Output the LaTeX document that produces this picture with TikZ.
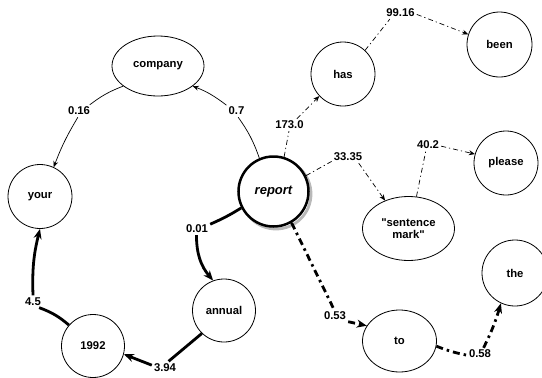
\documentclass[tikz,border=0pt]{standalone}
\usepackage{fontspec}
\setmainfont{Liberation Sans}
\newfontfamily\plainq{Liberation Sans}[Ligatures=TeXOff]
\usetikzlibrary{arrows.meta,shapes.geometric}
\tikzset{
  txt/.style={font=\bfseries\fontsize{11.3}{12.5}\selectfont},
  vtx/.style={txt, circle, draw, line width=0.8pt, minimum size=64pt, inner sep=0pt, fill=white},
  evtx/.style={txt, ellipse, draw, line width=0.8pt, inner sep=0pt, fill=white, align=center},
  lbl/.style={txt, inner sep=2pt},
  thinedge/.style={line width=0.7pt, -{Stealth[length=6pt,width=5pt]}},
  dashdotedge/.style={thinedge, dash pattern=on 5pt off 3pt on 1.2pt off 3pt},
  thickedge/.style={line width=2.8pt, -{Stealth[length=10pt,width=8pt]}},
  thickdashdot/.style={thickedge, dash pattern=on 7pt off 4pt on 2.5pt off 4pt}
}
\begin{document}
\begin{tikzpicture}[x=1pt,y=1pt]
\useasboundingbox (0,0) rectangle (542,-378);
% nodes
\node[evtx, minimum width=92pt, minimum height=60pt] (company) at (158,-66) {company};
\node[vtx] (your) at (40,-196.5) {your};
\node[circle, draw=gray!55, line width=2.8pt, minimum size=70pt] (reportshadow) at (276,-194) {};
\node[circle, draw, line width=2.5pt, minimum size=70pt, inner sep=0pt, fill=white,
      font=\bfseries\itshape\fontsize{13}{14}\selectfont] (report) at (273.5,-191.5) {report};
\node[vtx] (has) at (343,-74) {has};
\node[vtx, minimum size=65pt] (been) at (499.5,-44.5) {been};
\node[vtx] (please) at (506,-163) {please};
\node[evtx, minimum width=92pt, minimum height=64pt, font=\plainq\bfseries\fontsize{11.3}{12.5}\selectfont] (smark) at (408.5,-228.5) {"sentence\\mark"};
\node[vtx, minimum size=66pt] (the) at (515,-273) {the};
\node[evtx, minimum width=74pt, minimum height=62pt] (to) at (399.5,-341) {to};
\node[vtx, minimum size=63pt] (annual) at (224,-310.5) {annual};
\node[vtx, minimum size=63pt] (n1992) at (93,-346) {1992};
% labels
\node[lbl] (l07) at (236.5,-111) {0.7};
\node[lbl] (l016) at (79,-111) {0.16};
\node[lbl] (l001) at (197,-229) {0.01};
\node[lbl] (l394) at (165,-367.5) {3.94};
\node[lbl] (l45) at (33,-301.5) {4.5};
\node[lbl] (l173) at (289.5,-125) {173.0};
\node[lbl] (l9916) at (400.5,-13) {99.16};
\node[lbl] (l3335) at (348,-157) {33.35};
\node[lbl] (l402) at (428,-145) {40.2};
\node[lbl] (l053) at (335,-315.5) {0.53};
\node[lbl] (l058) at (480,-354) {0.58};
% edges
\draw[thinedge] (report.113) to[bend right=8] (l07.-75) (l07.150) to[bend right=8] (company.-30);
\draw[thinedge] (company.210) to[bend right=8] (l016.30) (l016.-100) to[bend right=5] (your.65);
\draw[thickedge] (report.207) to[bend left=4] (l001.20) (l001.-95) to[bend right=20] (annual.110);
\draw[thickedge] (annual.-134) -- (l394.60) (l394.170) -- (n1992.-15);
\draw[thickedge] (n1992.139) to[bend right=10] (l45.-45) (l45.90) to[bend left=8] (your.-90);
\draw[dashdotedge] (report.73) -- (l173.-95) (l173.40) -- (has.223);
\draw[dashdotedge] (has.47) -- (l9916.-150) (l9916.-5) -- (been.162);
\draw[dashdotedge] (report.26) -- (l3335.-165) (l3335.-30) -- (smark.130);
\draw[dashdotedge] (smark.76) -- (l402.-110) (l402.-5) -- (please.164);
\draw[thickdashdot] (report.-60) -- (l053.100) (l053.south east) -- (to.155);
\draw[thickdashdot] (to.-8) to[bend right=5] (l058.185) (l058.60) to[bend right=5] (the.-115);
\end{tikzpicture}
\end{document}
